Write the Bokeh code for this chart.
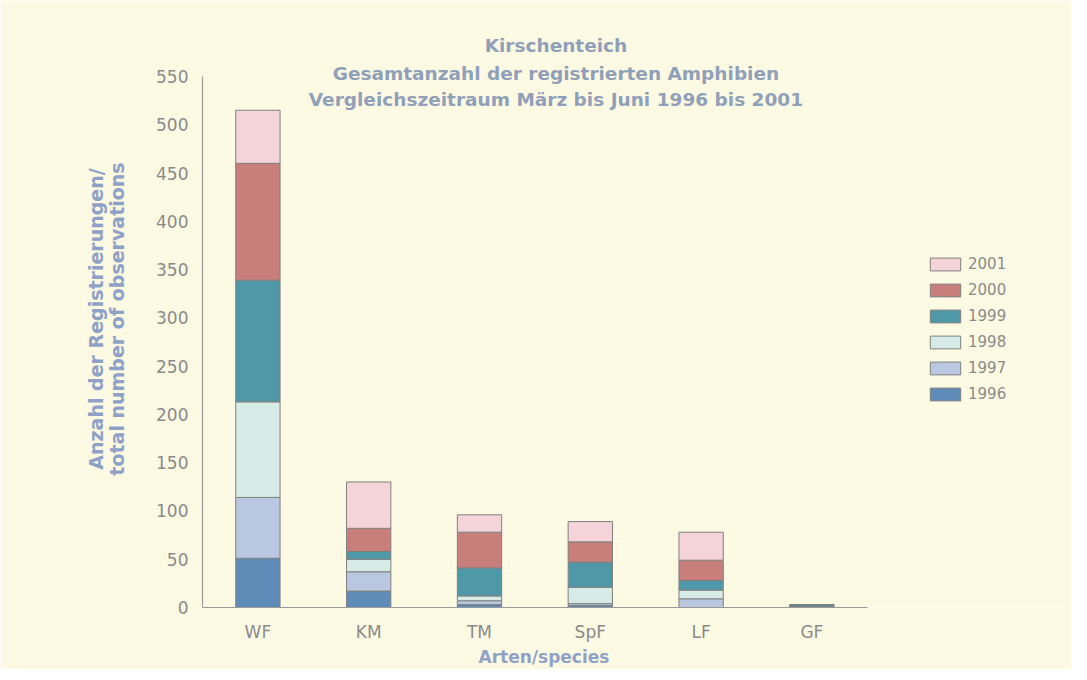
from bokeh.plotting import figure
from bokeh.models import (Range1d, FixedTicker, Legend, LegendItem, Label, Title)
from bokeh.embed import file_html
from bokeh.resources import INLINE

species = ["WF", "KM", "TM", "SpF", "LF", "GF"]
years = ["1996", "1997", "1998", "1999", "2000", "2001"]
v1996 = [51, 17, 3, 2, 0, 1]
v1997 = [63, 20, 4, 2, 9, 0]
v1998 = [99, 13, 5, 17, 9, 0]
v1999 = [126, 8, 29, 26, 10, 2]
v2000 = [121, 24, 37, 21, 21, 0]
v2001 = [55, 48, 18, 21, 29, 0]
colors = ["#5e8bb7", "#b9c7e0", "#d7ebe6", "#4e98a8", "#c87e7b", "#f4d4d8"]
y_ticks = [0, 50, 100, 150, 200, 250, 300, 350, 400, 450, 500, 550]
title_lines = ["Kirschenteich",
               "Gesamtanzahl der registrierten Amphibien",
               "Vergleichszeitraum März bis Juni 1996 bis 2001"]

pos = list(range(len(species)))
data = {"pos": pos, "species": species, "1996": v1996, "1997": v1997,
        "1998": v1998, "1999": v1999, "2000": v2000, "2001": v2001}

BG = "#fdfae4"
FONT = "DejaVu Sans"
LBL = "#8fa2c6"
TICK = "#8a8a8a"

p = figure(width=1071, height=669, x_range=Range1d(-0.5, 7.343),
           y_range=Range1d(0, 597.6), output_backend="svg", toolbar_location=None,
           min_border_left=202, min_border_right=0, min_border_top=30,
           min_border_bottom=62)
p.background_fill_color = BG
p.border_fill_color = BG
p.outline_line_color = None
p.grid.visible = False

rs = p.vbar_stack(years, x="pos", width=0.4, color=colors, source=data,
                  line_color="#808080", line_width=1)

# axes
p.yaxis.ticker = FixedTicker(ticks=y_ticks)
p.yaxis.bounds = (0, 550)
p.xaxis.ticker = FixedTicker(ticks=pos)
p.xaxis.major_label_overrides = {i: s for i, s in zip(pos, species)}
p.xaxis.bounds = (-0.5, 5.5)
for ax in (p.xaxis[0], p.yaxis[0]):
    ax.axis_line_color = "#9a9a9a"
    ax.axis_line_width = 1.2
    ax.major_tick_line_color = None
    ax.minor_tick_line_color = None
    ax.major_label_text_font = FONT
    ax.major_label_text_font_size = "17px"
    ax.major_label_text_color = TICK
    ax.axis_label_text_font = FONT
    ax.axis_label_text_font_style = "bold"
    ax.axis_label_text_color = LBL
    ax.axis_label_text_font_size = "19px"
p.yaxis.major_label_standoff = 8
p.yaxis.axis_label = "Anzahl der Registrierungen/\ntotal number of observations"
p.yaxis.axis_label_standoff = 25
p.yaxis.axis_label_text_line_height = 0.95
p.xaxis.major_label_standoff = 8

# x axis title, placed below the axis at the reference position
p.add_layout(Title(text="Arten/species", align="left", offset=276, standoff=1,
                   text_font=FONT, text_font_style="bold", text_font_size="17px",
                   text_color=LBL), "below")

# title lines inside the plot area
for t, yv in zip(title_lines, [582, 553, 526]):
    p.add_layout(Label(x=2.69, y=yv, text=t, text_align="center",
                       text_baseline="alphabetic", text_font=FONT,
                       text_font_style="bold", text_font_size="18.5px",
                       text_color="#8fa0b8"))

items = [LegendItem(label=y, renderers=[r]) for y, r in zip(years, rs)][::-1]
legend = Legend(items=items, location=(724, 204), margin=0, padding=0,
                border_line_color=None, background_fill_alpha=0,
                glyph_width=38, glyph_height=16, spacing=8, label_standoff=4,
                label_text_font=FONT, label_text_font_size="15px",
                label_text_color=TICK)
p.add_layout(legend, "center")

open("out.html", "w").write(file_html(p, INLINE))
